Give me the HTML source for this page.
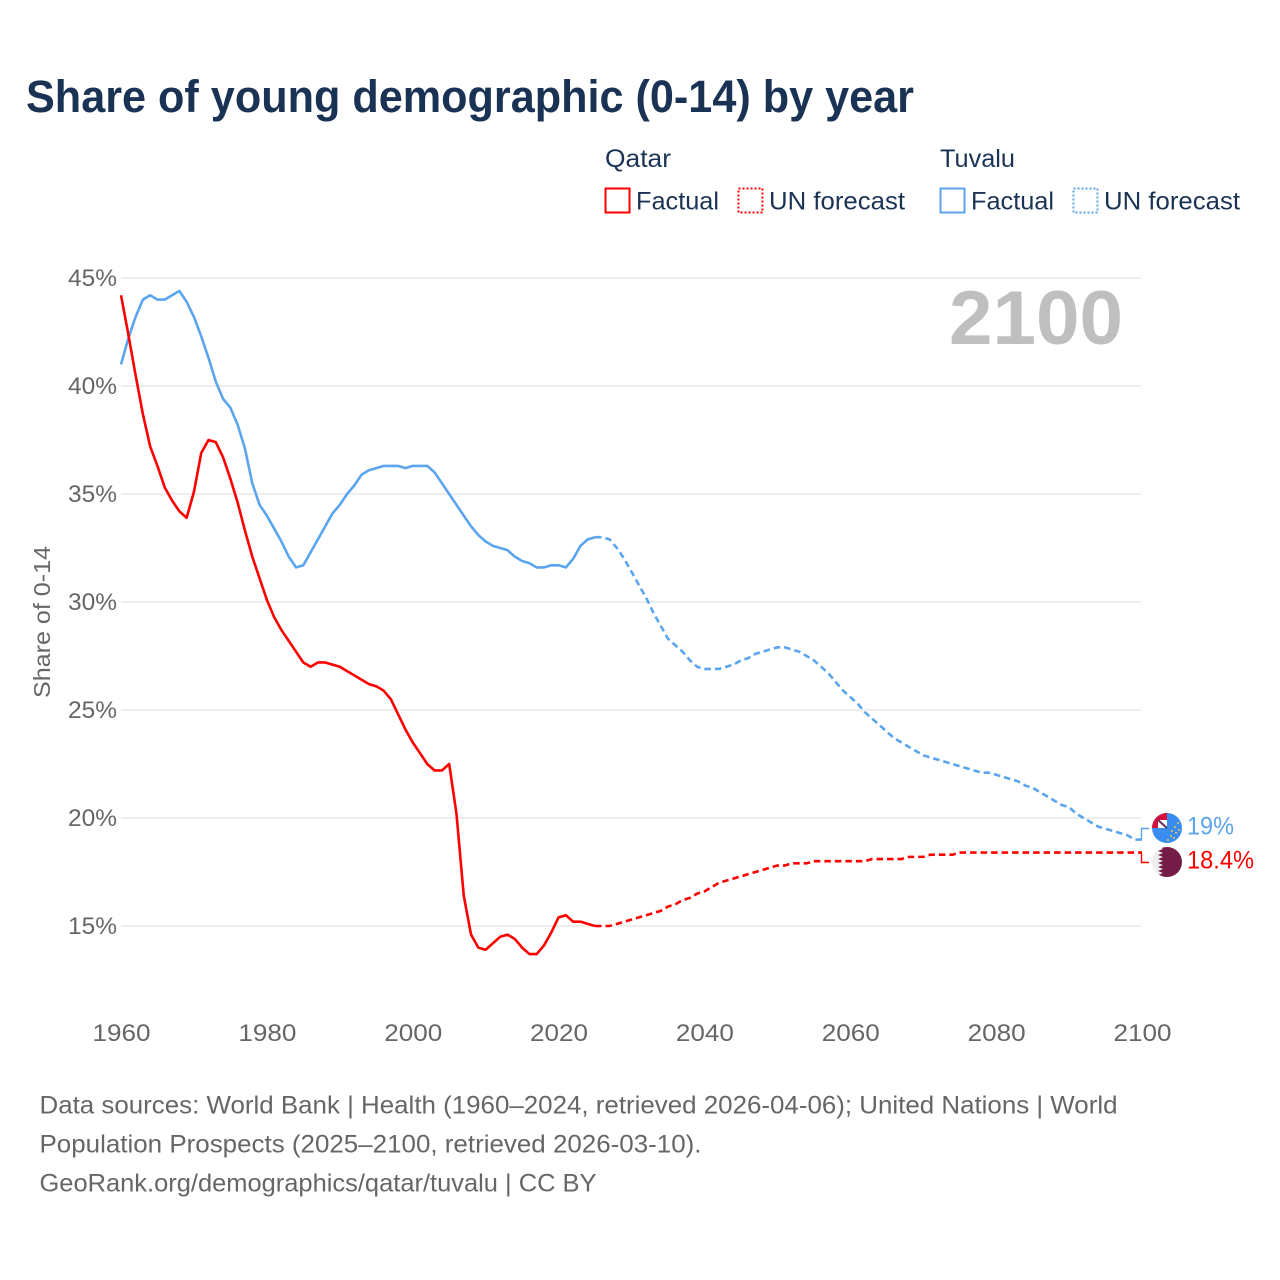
<!DOCTYPE html>
<html lang="en">
<head>
<meta charset="utf-8">
<title>Share of young demographic (0-14) by year</title>
<style>
html,body{margin:0;padding:0;background:#fff;}
svg{display:block;}
text{font-family:"Liberation Sans",sans-serif;}
</style>
</head>
<body>
<svg id="chart" xmlns="http://www.w3.org/2000/svg" width="1280" height="1280" viewBox="0 0 1280 1280">
  <rect width="1280" height="1280" fill="#fff"/>
  <text x="26" y="112" font-size="45" font-weight="700" fill="#1a3355" textLength="888" lengthAdjust="spacingAndGlyphs">Share of young demographic (0-14) by year</text>

  <g font-size="25" fill="#1a3355">
    <text x="605" y="167" textLength="66" lengthAdjust="spacingAndGlyphs">Qatar</text>
    <text x="940" y="167" textLength="75" lengthAdjust="spacingAndGlyphs">Tuvalu</text>
    <rect x="605.5" y="188.5" width="24" height="24" fill="none" stroke="#ff0000" stroke-width="2"/>
    <text x="636" y="209.5" textLength="83" lengthAdjust="spacingAndGlyphs">Factual</text>
    <rect x="738.5" y="188.5" width="24" height="24" fill="none" stroke="#ff0000" stroke-width="2" stroke-dasharray="2 2"/>
    <text x="769" y="209.5" textLength="136" lengthAdjust="spacingAndGlyphs">UN forecast</text>
    <rect x="940.5" y="188.5" width="24" height="24" fill="none" stroke="#5ba5ee" stroke-width="2"/>
    <text x="971" y="209.5" textLength="83" lengthAdjust="spacingAndGlyphs">Factual</text>
    <rect x="1073.5" y="188.5" width="24" height="24" fill="none" stroke="#5ba5ee" stroke-width="2" stroke-dasharray="2 2"/>
    <text x="1104" y="209.5" textLength="136" lengthAdjust="spacingAndGlyphs">UN forecast</text>
  </g>

  <g id="grid"></g>
  <g id="yticks"></g>
  <g id="xticks"></g>
  <text transform="translate(50,622) rotate(-90)" text-anchor="middle" font-size="23" fill="#666" textLength="152" lengthAdjust="spacingAndGlyphs">Share of 0-14</text>
  <text x="949" y="344" font-size="76" font-weight="700" fill="#bfbfbf" textLength="174" lengthAdjust="spacingAndGlyphs">2100</text>
  <g id="series"></g>

  <defs>
    <clipPath id="clip-tv"><circle cx="1167" cy="828" r="15"/></clipPath>
    <clipPath id="clip-qa"><circle cx="1167" cy="862" r="15"/></clipPath>
  </defs>
  <g clip-path="url(#clip-tv)">
    <rect x="1152" y="813" width="30" height="30" fill="#3a8dee"/>
    <rect x="1152" y="813" width="15" height="15" fill="#d5103a"/>
    <rect x="1158" y="820" width="9" height="8" fill="#fff"/>
    <path d="M1158 820L1167 828" stroke="#23407e" stroke-width="2"/>
    <path d="M1158 820L1166 827" stroke="#d5103a" stroke-width="0.8"/>
    <g fill="#e8c65a">
      <circle cx="1178" cy="823" r="1"/><circle cx="1175" cy="827" r="1"/><circle cx="1179" cy="830" r="1"/>
      <circle cx="1176" cy="833" r="1"/><circle cx="1172" cy="831" r="1"/><circle cx="1171" cy="836" r="1"/>
      <circle cx="1168" cy="840" r="1"/><circle cx="1174" cy="838" r="1"/>
    </g>
  </g>
  <g clip-path="url(#clip-qa)">
    <rect x="1152" y="847" width="30" height="30" fill="#eeeeee"/>
    <path d="M1182 847H1160L1163 849L1158 851L1163 853L1158 855L1163 857L1158 859L1163 861L1158 863L1163 865L1158 867L1163 869L1158 871L1163 873L1158 875L1160 877H1182Z" fill="#741b47"/>
  </g>
  <text x="1187" y="834.5" font-size="25" fill="#5ba5ee" textLength="47" lengthAdjust="spacingAndGlyphs">19%</text>
  <text x="1187" y="868.5" font-size="25" fill="#ff0000" textLength="67" lengthAdjust="spacingAndGlyphs">18.4%</text>

  <g font-size="25" fill="#666">
    <text x="39.5" y="1113.5" textLength="1078" lengthAdjust="spacingAndGlyphs">Data sources: World Bank | Health (1960–2024, retrieved 2026-04-06); United Nations | World</text>
    <text x="39.5" y="1152.5" textLength="662" lengthAdjust="spacingAndGlyphs">Population Prospects (2025–2100, retrieved 2026-03-10).</text>
    <text x="39.5" y="1191.5" textLength="557" lengthAdjust="spacingAndGlyphs">GeoRank.org/demographics/qatar/tuvalu | CC BY</text>
  </g>
</svg>
<script>
const yTickValues = [15, 20, 25, 30, 35, 40, 45];
const yTickLabels = ["15%", "20%", "25%", "30%", "35%", "40%", "45%"];
const xTickYears = [1960, 1980, 2000, 2020, 2040, 2060, 2080, 2100];
const xTickLabels = ["1960", "1980", "2000", "2020", "2040", "2060", "2080", "2100"];
const factualStartYear = 1960;
const forecastStartYear = 2025;
const qatarFactual = [44.2,42.4,40.5,38.7,37.2,36.3,35.3,34.7,34.2,33.9,35.1,36.9,37.5,37.4,36.7,35.7,34.6,33.3,32.1,31.1,30.1,29.3,28.7,28.2,27.7,27.2,27.0,27.2,27.2,27.1,27.0,26.8,26.6,26.4,26.2,26.1,25.9,25.5,24.8,24.1,23.5,23.0,22.5,22.2,22.2,22.5,20.2,16.4,14.6,14.0,13.9,14.2,14.5,14.6,14.4,14.0,13.7,13.7,14.1,14.7,15.4,15.5,15.2,15.2,15.1];
const qatarForecast = [15.0,15.0,15.0,15.1,15.2,15.3,15.4,15.5,15.6,15.7,15.9,16.0,16.2,16.3,16.5,16.6,16.8,17.0,17.1,17.2,17.3,17.4,17.5,17.6,17.7,17.8,17.8,17.9,17.9,17.9,18.0,18.0,18.0,18.0,18.0,18.0,18.0,18.0,18.1,18.1,18.1,18.1,18.1,18.2,18.2,18.2,18.3,18.3,18.3,18.3,18.4,18.4,18.4,18.4,18.4,18.4,18.4,18.4,18.4,18.4,18.4,18.4,18.4,18.4,18.4,18.4,18.4,18.4,18.4,18.4,18.4,18.4,18.4,18.4,18.4,18.4];
const tuvaluFactual = [41.0,42.2,43.2,44.0,44.2,44.0,44.0,44.2,44.4,43.9,43.2,42.3,41.3,40.2,39.4,39.0,38.2,37.1,35.5,34.5,34.0,33.4,32.8,32.1,31.6,31.7,32.3,32.9,33.5,34.1,34.5,35.0,35.4,35.9,36.1,36.2,36.3,36.3,36.3,36.2,36.3,36.3,36.3,36.0,35.5,35.0,34.5,34.0,33.5,33.1,32.8,32.6,32.5,32.4,32.1,31.9,31.8,31.6,31.6,31.7,31.7,31.6,32.0,32.6,32.9];
const tuvaluForecast = [33.0,33.0,32.9,32.5,32.0,31.4,30.8,30.2,29.5,28.9,28.3,28.0,27.7,27.3,27.0,26.9,26.9,26.9,27.0,27.1,27.3,27.4,27.6,27.7,27.8,27.9,27.9,27.8,27.7,27.5,27.3,27.0,26.7,26.3,25.9,25.6,25.3,24.9,24.6,24.3,24.0,23.7,23.5,23.3,23.1,22.9,22.8,22.7,22.6,22.5,22.4,22.3,22.2,22.1,22.1,22.0,21.9,21.8,21.7,21.5,21.4,21.2,21.0,20.8,20.6,20.5,20.2,20.0,19.8,19.6,19.5,19.4,19.3,19.2,19.0,19.0];

const SVG_NS = "http://www.w3.org/2000/svg";
const xScale = function (year) { return 121 + (year - 1960) * (1021 / 140); };
const yScale = function (value) { return 926 - (value - 15) * 21.6; };

function make(tag, parent, attrs) {
  const el = document.createElementNS(SVG_NS, tag);
  Object.keys(attrs).forEach(function (k) { el.setAttribute(k, attrs[k]); });
  parent.appendChild(el);
  return el;
}

const gridGroup = document.getElementById("grid");
const yTickGroup = document.getElementById("yticks");
const xTickGroup = document.getElementById("xticks");
const seriesGroup = document.getElementById("series");

yTickValues.forEach(function (v, i) {
  const line = make("line", gridGroup, { x1: 121, x2: 1141, y1: yScale(v), y2: yScale(v), stroke: "#eeeeee", "stroke-width": 2 });
  
  
  const t = make("text", yTickGroup, { x: 117, y: yScale(v) + 8, "text-anchor": "end", "font-size": 24, fill: "#666", textLength: 49, lengthAdjust: "spacingAndGlyphs" });
  t.textContent = yTickLabels[i];
  
  
});

xTickYears.forEach(function (year, i) {
  const t = make("text", xTickGroup, { x: xScale(year) + 0.5, y: 1041, "text-anchor": "middle", "font-size": 24, fill: "#666", textLength: 58, lengthAdjust: "spacingAndGlyphs" });
  t.textContent = xTickLabels[i];
  
  
});

function linePath(values, startYear) {
  return values.map(function (v, i) {
    return (i ? "L" : "M") + xScale(startYear + i).toFixed(2) + " " + yScale(v).toFixed(2);
  }).join("");
}

const tuvaluFactualLine = make("path", seriesGroup, { d: linePath(tuvaluFactual.concat(tuvaluForecast[0]), factualStartYear), fill: "none", stroke: "#5ba5ee", "stroke-width": 2.6, "stroke-linejoin": "round" });



const tuvaluForecastLine = make("path", seriesGroup, { d: linePath(tuvaluForecast, forecastStartYear), fill: "none", stroke: "#5ba5ee", "stroke-width": 2.6, "stroke-dasharray": "6.5 4" });



const qatarFactualLine = make("path", seriesGroup, { d: linePath(qatarFactual.concat(qatarForecast[0]), factualStartYear), fill: "none", stroke: "#ff0000", "stroke-width": 2.6, "stroke-linejoin": "round" });



const qatarForecastLine = make("path", seriesGroup, { d: linePath(qatarForecast, forecastStartYear), fill: "none", stroke: "#ff0000", "stroke-width": 2.6, "stroke-dasharray": "6.5 4" });



const lastTuvalu = tuvaluForecast[tuvaluForecast.length - 1];
const lastQatar = qatarForecast[qatarForecast.length - 1];

const tuvaluConnector = make("path", seriesGroup, { d: "M1141.5 " + yScale(lastTuvalu).toFixed(1) + "V828.5H1149", fill: "none", stroke: "#5ba5ee", "stroke-width": 1.4 });



const qatarConnector = make("path", seriesGroup, { d: "M1141.5 " + yScale(lastQatar).toFixed(1) + "V862.5H1149", fill: "none", stroke: "#ff0000", "stroke-width": 1.4 });


</script>
</body>
</html>
